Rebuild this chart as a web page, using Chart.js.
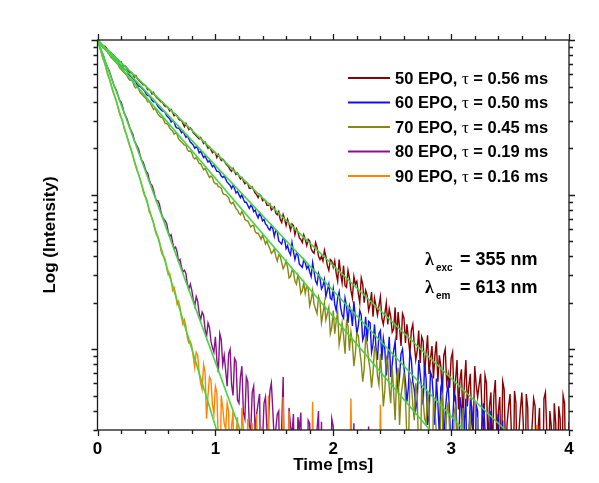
<!DOCTYPE html>
<html lang="en">
<head>
<meta charset="UTF-8">
<script src="https://cdn.jsdelivr.net/npm/chart.js"></script>
<title>Decay curves</title>
<style>
  body { margin: 0; background: #fff; }
  canvas { display: block; }
</style>
</head>
<body>
<canvas id="decayChart" width="599" height="483"></canvas>
<script>
// sampling step of the decays, ms
const dt = 0.0125;
const xTicks = [0, 1, 2, 3, 4];
const yDecades = [0, -1, -2];
const yMin = -2.523, yMax = 0;

const seriesNames = ['50 EPO', '60 EPO', '70 EPO', '80 EPO', '90 EPO'];
const tauValues = ['0.56', '0.50', '0.45', '0.19', '0.16'];
const seriesColors = ['#8b0000', '#1010f0', '#878710', '#8b108b', '#ff8400'];
const fitColor = '#44d444';
// time where each fit line leaves the bottom of the plot, ms
const fitEnds = [3.46, 3.11, 2.82, 1.21, 1.01];

// log10 of normalised intensity, one value per dt (-3 = no counts)
const epo50 = [0, -0.01, -0.02, -0.03, -0.04, -0.04, -0.05, -0.07, -0.08, -0.08, -0.09, -0.10, -0.11, -0.12, -0.13, -0.14, -0.14, -0.16, -0.17, -0.17,
  -0.18, -0.20, -0.21, -0.21, -0.22, -0.24, -0.23, -0.25, -0.26, -0.27, -0.28, -0.29, -0.29, -0.30, -0.32, -0.32, -0.33, -0.35, -0.34, -0.36,
  -0.37, -0.38, -0.39, -0.40, -0.40, -0.42, -0.43, -0.43, -0.44, -0.46, -0.45, -0.47, -0.49, -0.48, -0.49, -0.51, -0.52, -0.52, -0.54, -0.56,
  -0.54, -0.56, -0.58, -0.57, -0.58, -0.60, -0.61, -0.62, -0.63, -0.64, -0.63, -0.65, -0.67, -0.66, -0.68, -0.70, -0.69, -0.71, -0.73, -0.72,
  -0.73, -0.76, -0.74, -0.76, -0.78, -0.77, -0.78, -0.80, -0.81, -0.82, -0.84, -0.85, -0.83, -0.85, -0.87, -0.86, -0.88, -0.90, -0.89, -0.91,
  -0.93, -0.92, -0.93, -0.96, -0.96, -0.95, -0.97, -0.99, -1.00, -1.02, -1.00, -1.01, -1.04, -1.03, -1.04, -1.07, -1.07, -1.06, -1.10, -1.09,
  -1.08, -1.12, -1.13, -1.11, -1.16, -1.18, -1.13, -1.16, -1.20, -1.16, -1.19, -1.23, -1.19, -1.20, -1.26, -1.22, -1.24, -1.28, -1.29, -1.31,
  -1.26, -1.29, -1.33, -1.29, -1.30, -1.35, -1.37, -1.38, -1.31, -1.34, -1.40, -1.42, -1.40, -1.43, -1.36, -1.40, -1.46, -1.49, -1.42, -1.43,
  -1.47, -1.43, -1.51, -1.56, -1.42, -1.51, -1.57, -1.46, -1.59, -1.60, -1.49, -1.54, -1.62, -1.67, -1.53, -1.58, -1.56, -1.64, -1.70, -1.54,
  -1.58, -1.70, -1.62, -1.65, -1.75, -1.71, -1.63, -1.79, -1.67, -1.72, -1.78, -1.72, -1.66, -1.80, -1.84, -1.77, -1.70, -1.84, -1.74, -1.79,
  -1.89, -1.87, -1.73, -1.94, -1.76, -1.86, -1.98, -1.77, -1.80, -1.96, -1.84, -1.93, -2.03, -1.88, -1.84, -1.97, -2.07, -2.01, -1.88, -2.09,
  -1.92, -1.95, -2.16, -2.03, -1.91, -2.16, -2.06, -1.98, -2.19, -2.04, -1.95, -2.21, -2.04, -2.11, -2.30, -2.04, -2.00, -2.22, -2.16, -2.25,
  -2.06, -2.02, -2.34, -2.20, -2.07, -2.39, -2.20, -2.13, -2.46, -2.22, -2.07, -2.37, -2.24, -2.16, -2.48, -2.55, -2.11, -2.23, -2.31, -2.23,
  -2.16, -2.40, -2.56, -2.17, -2.22, -2.63, -2.37, -2.28, -2.70, -2.30, -2.20, -2.56, -2.41, -2.31, -2.79, -2.21, -2.26, -2.70, -2.48, -2.37,
  -2.29, -2.57, -3, -2.27, -2.35, -3, -2.54, -2.39, -2.28, -2.49, -3, -2.29, -2.38, -3, -2.65, -2.49, -2.32, -2.37, -3, -2.52,
  -2.38, -3, -3, -2.32, -2.28, -2.55, -3, -2.40, -2.50, -3, -2.35, -2.48, -3, -2.37, -2.45, -3, -2.30, -2.35, -3, -3,
  -2.47];

const epo60 = [0, -0.01, -0.02, -0.03, -0.05, -0.05, -0.06, -0.08, -0.09, -0.09, -0.10, -0.12, -0.13, -0.13, -0.14, -0.16, -0.17, -0.18, -0.19, -0.19,
  -0.20, -0.22, -0.23, -0.24, -0.25, -0.26, -0.27, -0.29, -0.30, -0.30, -0.31, -0.32, -0.33, -0.35, -0.36, -0.36, -0.37, -0.39, -0.40, -0.40,
  -0.41, -0.43, -0.44, -0.45, -0.46, -0.46, -0.47, -0.49, -0.50, -0.51, -0.53, -0.52, -0.53, -0.56, -0.57, -0.57, -0.58, -0.60, -0.59, -0.61,
  -0.63, -0.62, -0.64, -0.66, -0.67, -0.68, -0.70, -0.69, -0.70, -0.73, -0.72, -0.74, -0.76, -0.75, -0.77, -0.79, -0.78, -0.80, -0.82, -0.81,
  -0.83, -0.85, -0.85, -0.86, -0.88, -0.89, -0.88, -0.90, -0.92, -0.93, -0.94, -0.96, -0.94, -0.96, -0.99, -0.98, -1.00, -1.02, -1.00, -1.03,
  -1.05, -1.05, -1.07, -1.09, -1.07, -1.08, -1.11, -1.10, -1.13, -1.15, -1.12, -1.14, -1.17, -1.16, -1.19, -1.20, -1.22, -1.23, -1.20, -1.22,
  -1.27, -1.23, -1.24, -1.30, -1.31, -1.32, -1.28, -1.29, -1.35, -1.33, -1.37, -1.39, -1.31, -1.37, -1.42, -1.38, -1.39, -1.45, -1.46, -1.47,
  -1.42, -1.44, -1.48, -1.46, -1.50, -1.53, -1.44, -1.50, -1.56, -1.58, -1.51, -1.54, -1.61, -1.59, -1.55, -1.66, -1.62, -1.58, -1.67, -1.68,
  -1.61, -1.71, -1.75, -1.67, -1.63, -1.73, -1.78, -1.80, -1.67, -1.72, -1.83, -1.72, -1.76, -1.85, -1.69, -1.80, -1.90, -1.85, -1.75, -1.78,
  -1.94, -1.91, -1.79, -1.95, -1.82, -1.83, -2.02, -1.97, -1.84, -1.99, -2.07, -1.90, -1.88, -2.07, -1.93, -2.00, -2.17, -2.06, -1.92, -2.18,
  -2.10, -2.01, -1.95, -2.16, -2.26, -2.18, -2.03, -2.00, -2.12, -2.21, -2.34, -2.25, -2.02, -2.07, -2.21, -2.26, -2.39, -2.33, -2.07, -2.16,
  -2.26, -2.36, -2.10, -2.19, -2.49, -2.43, -2.15, -2.18, -2.32, -2.49, -2.19, -2.35, -2.56, -2.25, -2.20, -2.63, -2.41, -2.29, -2.23, -2.42,
  -2.69, -2.48, -2.28, -2.31, -2.52, -2.75, -2.31, -2.38, -3, -2.47, -2.32, -3, -2.56, -2.34, -2.37, -2.51, -3, -2.36, -2.40, -3,
  -2.70, -2.44, -2.35, -2.52, -3, -3, -2.56, -2.40, -3, -3, -3, -3, -2.42, -3, -3, -2.46, -3, -3, -3, -3,
  -3];

const epo70 = [0, -0.01, -0.03, -0.04, -0.05, -0.06, -0.07, -0.08, -0.09, -0.11, -0.12, -0.13, -0.14, -0.15, -0.16, -0.18, -0.19, -0.20, -0.21, -0.22,
  -0.23, -0.25, -0.26, -0.26, -0.27, -0.30, -0.31, -0.30, -0.32, -0.34, -0.35, -0.36, -0.37, -0.38, -0.40, -0.40, -0.41, -0.43, -0.45, -0.44,
  -0.46, -0.48, -0.49, -0.50, -0.50, -0.52, -0.54, -0.54, -0.55, -0.57, -0.58, -0.59, -0.61, -0.60, -0.61, -0.64, -0.65, -0.66, -0.67, -0.68,
  -0.68, -0.71, -0.72, -0.72, -0.73, -0.76, -0.77, -0.76, -0.78, -0.80, -0.80, -0.82, -0.84, -0.83, -0.85, -0.87, -0.89, -0.88, -0.89, -0.92,
  -0.93, -0.93, -0.95, -0.95, -0.96, -0.99, -1.00, -1.00, -1.01, -1.02, -1.05, -1.06, -1.05, -1.07, -1.09, -1.10, -1.12, -1.13, -1.11, -1.13,
  -1.16, -1.17, -1.17, -1.19, -1.21, -1.20, -1.20, -1.24, -1.25, -1.25, -1.27, -1.29, -1.26, -1.29, -1.32, -1.30, -1.33, -1.35, -1.38, -1.37,
  -1.35, -1.40, -1.43, -1.39, -1.40, -1.44, -1.48, -1.46, -1.43, -1.47, -1.54, -1.53, -1.49, -1.50, -1.56, -1.58, -1.52, -1.56, -1.64, -1.62,
  -1.57, -1.64, -1.59, -1.61, -1.72, -1.68, -1.62, -1.71, -1.74, -1.77, -1.66, -1.69, -1.83, -1.77, -1.70, -1.81, -1.77, -1.73, -1.90, -1.86,
  -1.75, -1.90, -1.82, -1.76, -1.97, -1.91, -1.83, -1.91, -2.03, -1.82, -1.85, -2.01, -1.89, -1.96, -2.11, -2.03, -1.90, -1.91, -2.01, -2.09,
  -2.21, -2.13, -1.92, -1.97, -2.07, -2.13, -2.25, -2.15, -1.99, -2.01, -2.17, -2.23, -2.03, -2.18, -2.37, -2.27, -2.05, -2.08, -2.25, -2.35,
  -2.11, -2.28, -2.46, -2.18, -2.12, -2.49, -2.30, -2.23, -2.15, -2.32, -2.58, -2.66, -2.19, -2.22, -2.36, -2.46, -2.22, -2.30, -2.71, -2.79,
  -2.25, -2.33, -2.45, -2.48, -2.27, -2.36, -3, -3, -2.32, -2.40, -2.54, -2.57, -3, -2.34, -2.30, -3, -2.60, -2.42, -2.34, -2.52,
  -3, -3, -2.42, -2.36, -2.65, -3, -3, -2.48, -2.38, -3, -3, -3, -2.52, -2.42, -3, -3, -3, -3, -2.44, -3,
  -3, -3, -3, -3, -3];

const epo80 = [0, -0.03, -0.05, -0.08, -0.10, -0.13, -0.16, -0.18, -0.20, -0.23, -0.26, -0.29, -0.31, -0.33, -0.36, -0.39, -0.40, -0.43, -0.47, -0.49,
  -0.51, -0.54, -0.57, -0.59, -0.61, -0.65, -0.67, -0.69, -0.71, -0.75, -0.78, -0.79, -0.82, -0.85, -0.86, -0.90, -0.93, -0.94, -0.97, -1.01,
  -1.04, -1.04, -1.06, -1.11, -1.14, -1.16, -1.17, -1.19, -1.24, -1.27, -1.26, -1.31, -1.35, -1.34, -1.37, -1.43, -1.42, -1.47, -1.50, -1.49,
  -1.51, -1.58, -1.61, -1.58, -1.62, -1.68, -1.72, -1.66, -1.69, -1.77, -1.81, -1.76, -1.78, -1.87, -1.92, -1.83, -1.86, -1.95, -1.99, -2.02,
  -1.92, -2.07, -2.15, -1.90, -1.94, -2.10, -2.04, -2.14, -2.24, -2.03, -2.00, -2.23, -2.30, -2.06, -2.08, -2.33, -2.35, -2.18, -2.11, -2.41,
  -2.45, -2.18, -2.21, -2.49, -2.53, -2.28, -2.24, -2.55, -2.42, -2.35, -2.29, -3, -2.60, -2.35, -2.31, -2.52, -2.48, -2.27, -2.22, -2.40,
  -2.60, -2.52, -2.42, -2.40, -3, -2.50, -2.18, -3, -3, -3, -2.38, -2.50, -2.55, -2.42, -3, -3, -2.44, -2.52, -2.41, -3,
  -3, -3, -3, -2.46, -2.48, -3, -3, -3, -3, -2.52, -2.40, -3, -2.47, -3, -3, -3, -3, -3, -3, -2.45,
  -2.50, -3, -3, -3, -3, -3, -3, -3, -3, -3, -3, -3, -3, -3, -2.48, -3, -3, -3, -3, -2.52,
  -3, -3, -3, -3, -2.50, -3, -3, -3, -3];

const epo90 = [0, -0.03, -0.06, -0.10, -0.13, -0.15, -0.19, -0.23, -0.25, -0.28, -0.32, -0.35, -0.37, -0.40, -0.44, -0.48, -0.50, -0.52, -0.57, -0.60,
  -0.62, -0.66, -0.69, -0.71, -0.75, -0.79, -0.82, -0.85, -0.87, -0.90, -0.94, -0.98, -1.01, -1.02, -1.05, -1.11, -1.13, -1.15, -1.18, -1.23,
  -1.26, -1.27, -1.30, -1.36, -1.39, -1.40, -1.42, -1.48, -1.52, -1.51, -1.55, -1.62, -1.60, -1.64, -1.71, -1.69, -1.73, -1.80, -1.84, -1.81,
  -1.85, -1.93, -1.96, -1.95, -1.98, -2.05, -2.12, -2.02, -2.04, -2.16, -2.22, -2.26, -2.10, -2.15, -2.45, -2.30, -2.18, -2.20, -2.36, -2.42,
  -2.24, -2.28, -2.60, -3, -2.30, -2.38, -2.48, -2.52, -2.35, -2.40, -3, -2.50, -2.40, -3, -2.55, -2.44, -3, -3, -2.38, -2.52,
  -3, -3, -2.45, -3, -3, -2.48, -3, -3, -2.42, -3, -3, -2.50, -3, -3, -3, -3, -2.30, -3, -3, -3,
  -3, -3, -3, -3, -3, -3, -2.31, -3, -3, -3, -2.40, -3, -3, -3, -3, -3, -3, -3, -3, -3,
  -3, -3, -3, -3, -3, -3, -2.34, -3, -3, -3, -3, -3, -3, -3, -3, -3, -3, -3, -3, -3,
  -3, -3, -3, -3, -3, -3, -3, -3, -3, -3, -3, -3, -2.32, -3, -3, -3, -3, -3, -3, -3,
  -3, -3, -3, -3, -3, -3, -3, -3, -3, -3, -3, -3, -2.36, -3, -3, -3, -3, -3, -3, -3,
  -3, -3, -3, -3, -3, -3, -3, -3, -3, -3, -3, -3, -3, -3, -3, -3, -3, -3, -3, -3,
  -3, -3, -3, -3, -3, -3, -3, -3, -3, -3, -3, -3, -3, -3, -3, -3, -3, -3, -3, -3,
  -3, -3, -3, -3, -3, -3, -3, -3, -3, -3, -3, -3, -3, -3, -3, -3, -3, -3, -3, -3,
  -3, -3, -3, -3, -3, -3, -3, -3, -3, -3, -3, -3, -3, -3, -3, -3, -3, -3, -3, -3,
  -3, -3, -3, -3, -3, -3, -3, -3, -3, -3, -3, -3, -3, -3, -3, -3, -3, -3, -2.49, -3,
  -3];

const allSeries = [epo50, epo60, epo70, epo80, epo90];
const SANS = '"Liberation Sans", Arial, sans-serif';

function toPoints(arr) {
  return arr.map((v, i) => ({ x: i * dt, y: v }));
}

var datasets = [];
fitEnds.forEach(function (end) {
  datasets.push({
    data: [{ x: 0, y: 0 }, { x: end, y: yMin }],
    borderColor: fitColor, borderWidth: 1.6, order: 0
  });
});
// red at the back, orange in front
allSeries.forEach(function (arr, i) {
  datasets.push({
    data: toPoints(arr),
    borderColor: seriesColors[i], borderWidth: 1.4, order: 5 - i
  });
});

// frame, tick marks, legend and wavelength notes
const decor = {
  id: 'decor',
  afterDatasetsDraw(chart) {
    const ctx = chart.ctx, a = chart.chartArea, x = chart.scales.x, y = chart.scales.y;
    ctx.save();
    ctx.strokeStyle = '#1a1a1a';
    ctx.lineWidth = 1.3;
    ctx.strokeRect(a.left, a.top, a.right - a.left, a.bottom - a.top);

    ctx.beginPath();
    for (var i = 0; i <= 20; i++) {
      var px = Math.round(x.getPixelForValue(i / 5)) + 0.5;
      var len = i % 5 === 0 ? 6 : 4;
      ctx.moveTo(px, a.bottom); ctx.lineTo(px, a.bottom + len);
      ctx.moveTo(px, a.top); ctx.lineTo(px, a.top - len);
    }
    yDecades.concat([-3]).forEach(function (d) {
      for (var k = 1; k <= 9; k++) {
        var v = d + Math.log10(k);
        if (v > yMax + 1e-6 || v < yMin) continue;
        var py = Math.round(y.getPixelForValue(v)) + 0.5;
        var len = k === 1 ? 6 : 4;
        ctx.moveTo(a.left, py); ctx.lineTo(a.left - len, py);
        ctx.moveTo(a.right, py); ctx.lineTo(a.right + len, py);
      }
    });
    ctx.stroke();

    // legend
    ctx.textBaseline = 'alphabetic';
    seriesNames.forEach(function (name, i) {
      var base = 83.5 + i * 24.5;
      ctx.strokeStyle = seriesColors[i];
      ctx.lineWidth = 2;
      ctx.beginPath(); ctx.moveTo(348, base - 5.5); ctx.lineTo(390, base - 5.5); ctx.stroke();
      ctx.fillStyle = '#000';
      var tx = 395;
      ctx.font = 'bold 16.5px ' + SANS;
      var p1 = name + ', ';
      ctx.fillText(p1, tx, base); tx += ctx.measureText(p1).width;
      ctx.font = '17px "Liberation Serif", serif';
      ctx.fillText('\u03c4', tx, base); tx += ctx.measureText('\u03c4').width;
      ctx.font = 'bold 16.5px ' + SANS;
      ctx.fillText(' = ' + tauValues[i] + ' ms', tx, base);
    });

    // excitation / emission wavelengths
    [['exc', '= 355 nm', 265], ['em', '= 613 nm', 293]].forEach(function (r) {
      ctx.font = 'bold 18px "Liberation Serif", serif';
      ctx.fillText('\u03bb', 425, r[2]);
      ctx.font = 'bold 10px ' + SANS;
      ctx.fillText(r[0], 436, r[2] + 6);
      ctx.font = 'bold 18px ' + SANS;
      ctx.fillText(r[1], 460, r[2]);
    });
    ctx.restore();
  }
};

new Chart(document.getElementById('decayChart'), {
  type: 'line',
  data: { datasets: datasets },
  plugins: [decor],
  options: {
    responsive: false,
    animation: false,
    devicePixelRatio: 1,
    layout: { padding: { left: 0, right: 30, top: 40, bottom: 0 } },
    elements: { point: { radius: 0 }, line: { tension: 0 } },
    datasets: { line: { clip: 0, fill: false } },
    plugins: { legend: { display: false }, tooltip: { enabled: false } },
    scales: {
      x: {
        type: 'linear', min: 0, max: 4,
        grid: { display: false, drawTicks: false }, border: { display: false },
        ticks: { stepSize: 1, color: '#000', padding: 9, font: { family: SANS, size: 17, weight: 'bold' } },
        title: { display: true, text: 'Time [ms]', color: '#000', padding: { top: 0, bottom: 7 }, font: { family: SANS, size: 17, weight: 'bold' } },
        afterFit: function (s) { s.height = 53; }
      },
      y: {
        type: 'linear', min: yMin, max: yMax,
        grid: { display: false, drawTicks: false }, border: { display: false },
        ticks: { display: false },
        title: { display: true, text: 'Log (Intensity)', color: '#000', padding: { top: 40, bottom: 0 }, font: { family: SANS, size: 17, weight: 'bold' } },
        afterFit: function (s) { s.width = 97.5; }
      }
    }
  }
});
</script>
</body>
</html>
